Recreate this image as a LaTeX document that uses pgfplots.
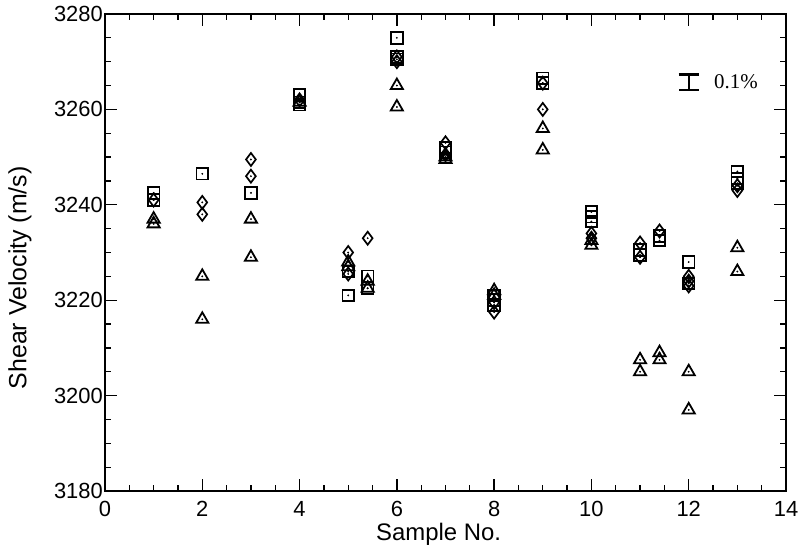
\documentclass[border=0pt]{standalone}
\usepackage{fontspec}
\setmainfont{Liberation Sans}
\newfontfamily\serifnum{Liberation Serif}
\usepackage{pgfplots}
\pgfplotsset{compat=1.18}

% shear velocity readings per sample, three kinds of mark
\pgfplotstableread{
x y
1 3242.5
1 3241
2 3246.5
3 3242.5
4 3263
4 3261.5
4 3261
5 3226
5 3221
5.4 3225
5.4 3222.5
6 3275
6 3271
6 3270.5
7 3252
7 3251
8 3221
8 3220
8 3219
9 3266.5
9 3265.5
10 3238.5
10 3237.5
10 3236.5
11 3230.5
11 3229.5
11.4 3233.5
11.4 3232.5
12 3228
12 3223.5
13 3247
13 3245.5
13 3244.5
}\squares
\pgfplotstableread{
x y
1 3241
2 3240.5
2 3238
3 3249.5
3 3246
4 3262
5 3230
5 3225.5
5.4 3233
6 3271
6 3270
7 3253
7 3250.5
8 3217.5
8 3219.5
9 3265.5
9 3260
10 3234
10 3233
11 3232
11 3229
11.4 3234.5
12 3225
12 3224
12 3223
13 3244
13 3243
}\diamonds
\pgfplotstableread{
x y
1 3237
1 3236
2 3225
2 3216
3 3237
3 3229
4 3261.5
5 3228
5 3227
5.4 3224
5.4 3222.5
6 3265
6 3260.5
7 3249.5
7 3250
8 3222
8 3221
9 3256
9 3251.5
10 3232.5
10 3231.5
11 3207.5
11 3205
11.4 3209
11.4 3207.5
12 3205
12 3197
13 3231
13 3226
}\triangles

\begin{document}
\begin{tikzpicture}
\useasboundingbox (-105bp,-58bp) rectangle (696bp,491bp);
\begin{axis}[
    scale only axis,
    width=681bp, height=477bp,
    xmin=0, xmax=14, ymin=3180, ymax=3280,
    xtick={0,2,...,14}, ytick={3180,3200,...,3280},
    minor x tick num=3, minor y tick num=3,
    tick align=inside,
    major tick length=12bp, minor tick length=6bp,
    every tick/.style={black, line width=1.3bp},
    axis line style={line width=1.8bp},
    /pgf/number format/assume math mode=true,
    /pgf/number format/1000 sep={},
    tick label style={font=\fontsize{22}{26}\selectfont},
    xticklabel style={yshift=-9bp, inner sep=1bp},
    yticklabel style={xshift=1bp, inner sep=3bp},
    xlabel={Sample No.},
    ylabel={Shear Velocity (m/s)},
    xlabel style={font=\fontsize{24}{28}\selectfont,
        at={(axis description cs:0.49,-0.091)}, anchor=center},
    ylabel style={font=\fontsize{25}{29}\selectfont,
        at={(axis description cs:-0.125,0.447)}, anchor=center},
    clip=false,
]
\addplot[only marks, mark=square, mark size=5.8bp,
    mark options={line width=1.8bp, black}] table {\squares};
\addplot[only marks, mark=diamond, mark size=6.5bp,
    mark options={line width=1.7bp, black}] table {\diamonds};
\addplot[only marks, mark=triangle, mark size=7bp,
    mark options={line width=1.8bp, black}] table {\triangles};
\addplot[only marks, mark=*, mark size=0.7bp, black] table {\squares};
\addplot[only marks, mark=*, mark size=0.7bp, black] table {\diamonds};
\addplot[only marks, mark=*, mark size=0.7bp, black] table {\triangles};
% 0.1% scale bar
\addplot[draw=none, mark=none,
    error bars/.cd, y dir=both, y explicit,
    error bar style={line width=2.4bp, black},
    error mark options={rotate=90, mark size=10bp, line width=2.4bp, black}]
    coordinates {(12,3265.7) +- (0,1.63)};
\node[anchor=west, font=\serifnum\fontsize{21}{24}\selectfont]
    at (axis cs:12.45,3265.9) {0.1\%};
\end{axis}
\end{tikzpicture}
\end{document}
